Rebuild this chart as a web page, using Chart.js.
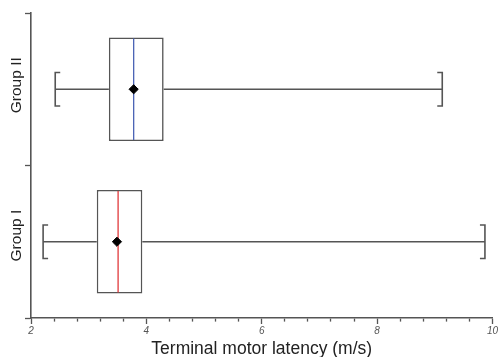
<!DOCTYPE html>
<html lang="en">
<head>
<meta charset="UTF-8" />
<title>Terminal motor latency</title>
<script src="https://cdn.jsdelivr.net/npm/chart.js"></script>
<style>
	html, body {
		margin: 0;
		padding: 0;
		background: #ffffff;
	}

	#latencyChart {
		display: block;
	}
</style>
</head>
<body>
<canvas id="latencyChart" width="499" height="357"></canvas>
<script>
// Box plot summaries per group, top to bottom
const categories = ['Group II', 'Group I'];
const whiskerLow = [2.42, 2.21];
const quartile1 = [3.35, 3.14];
const medians = [3.78, 3.51];
const quartile3 = [4.30, 3.93];
const whiskerHigh = [9.13, 9.87];
const means = [3.78, 3.49];
const medianColors = ['#4a62b5', '#e0393b'];
const majorTicks = [2, 4, 6, 8, 10];

const LINE = '#555555';
const FONT = 'Arial, "Liberation Sans", Helvetica, sans-serif';

const isMajor = (value) => majorTicks.includes(Math.round(value * 10) / 10);

// whiskers, end caps, medians and rotated group names
const boxDecor = {
	id: 'boxDecor',
	afterDatasetDraw(chart, args) {
		if (args.index !== 0) {
			return;
		}
		const { ctx, scales: { x, y } } = chart;
		const band = Math.abs(y.getPixelForValue(1) - y.getPixelForValue(0));
		const capHalf = band * 0.11;
		const stub = 5;

		ctx.save();
		ctx.lineCap = 'butt';
		args.meta.data.forEach((bar, i) => {
			const yc = bar.y;
			const xLow = x.getPixelForValue(whiskerLow[i]);
			const xQ1 = x.getPixelForValue(quartile1[i]);
			const xQ3 = x.getPixelForValue(quartile3[i]);
			const xHigh = x.getPixelForValue(whiskerHigh[i]);
			const xMed = x.getPixelForValue(medians[i]);

			ctx.strokeStyle = LINE;
			ctx.lineWidth = 1.6;
			ctx.beginPath();
			ctx.moveTo(xLow, yc);
			ctx.lineTo(xQ1, yc);
			ctx.moveTo(xQ3, yc);
			ctx.lineTo(xHigh, yc);
			ctx.stroke();

			ctx.beginPath();
			ctx.moveTo(xLow + stub, yc - capHalf);
			ctx.lineTo(xLow, yc - capHalf);
			ctx.lineTo(xLow, yc + capHalf);
			ctx.lineTo(xLow + stub, yc + capHalf);
			ctx.moveTo(xHigh - stub, yc - capHalf);
			ctx.lineTo(xHigh, yc - capHalf);
			ctx.lineTo(xHigh, yc + capHalf);
			ctx.lineTo(xHigh - stub, yc + capHalf);
			ctx.stroke();

			ctx.strokeStyle = medianColors[i];
			ctx.lineWidth = 1.3;
			ctx.beginPath();
			ctx.moveTo(xMed, yc - bar.height / 2 + 1);
			ctx.lineTo(xMed, yc + bar.height / 2 - 1);
			ctx.stroke();
		});
		ctx.restore();
	},
	afterDraw(chart) {
		const { ctx, scales: { y } } = chart;
		ctx.save();
		ctx.fillStyle = '#222222';
		ctx.font = `15.5px ${FONT}`;
		ctx.textAlign = 'right';
		ctx.textBaseline = 'middle';
		categories.forEach((name, i) => {
			ctx.save();
			ctx.translate(17, y.getPixelForValue(i) - 32);
			ctx.rotate(-Math.PI / 2);
			ctx.fillText(name, 0, 0);
			ctx.restore();
		});
		ctx.restore();
	},
};

new Chart(document.getElementById('latencyChart'), {
	type: 'bar',
	data: {
		labels: categories,
		datasets: [
			{
				data: categories.map((_, i) => [quartile1[i], quartile3[i]]),
				backgroundColor: '#ffffff',
				borderColor: LINE,
				borderWidth: 1.6,
				borderSkipped: false,
				categoryPercentage: 1,
				barPercentage: 0.68,
				order: 1,
			},
			{
				// group means, drawn as diamonds over the medians
				type: 'line',
				data: means,
				showLine: false,
				pointStyle: 'rectRot',
				pointRadius: 4.6,
				pointBackgroundColor: '#000000',
				pointBorderColor: '#000000',
				pointBorderWidth: 1,
				order: 0,
			},
		],
	},
	options: {
		indexAxis: 'y',
		responsive: false,
		animation: false,
		events: [],
		layout: {
			padding: { top: 13, right: 6, bottom: 0, left: 0 },
		},
		plugins: {
			legend: { display: false },
			tooltip: { enabled: false },
		},
		scales: {
			x: {
				type: 'linear',
				min: 2,
				max: 10,
				afterFit(scale) {
					scale.height = 39;
				},
				border: { color: LINE, width: 1.6 },
				grid: {
					drawOnChartArea: false,
					tickLength: 6,
					tickColor: LINE,
					tickWidth: 1.3,
					tickBorderDash: (ctx) => (ctx.tick && isMajor(ctx.tick.value) ? [] : [3, 20]),
				},
				ticks: {
					stepSize: 0.4,
					autoSkip: false,
					maxRotation: 0,
					padding: 1,
					color: '#555555',
					font: { family: FONT, size: 10, style: 'italic' },
					callback: (value) => (isMajor(value) ? String(Math.round(value)) : ''),
				},
				title: {
					display: true,
					text: 'Terminal motor latency (m/s)',
					color: '#222222',
					font: { family: FONT, size: 17.5 },
					padding: { top: 0, bottom: -3 },
				},
			},
			y: {
				type: 'category',
				offset: true,
				afterFit(scale) {
					scale.width = 31;
				},
				border: { color: LINE, width: 1.6 },
				grid: {
					offset: true,
					drawOnChartArea: false,
					tickLength: 6,
					tickColor: LINE,
					tickWidth: 1.3,
				},
				ticks: { display: false },
			},
		},
	},
	plugins: [boxDecor],
});
</script>
</body>
</html>
